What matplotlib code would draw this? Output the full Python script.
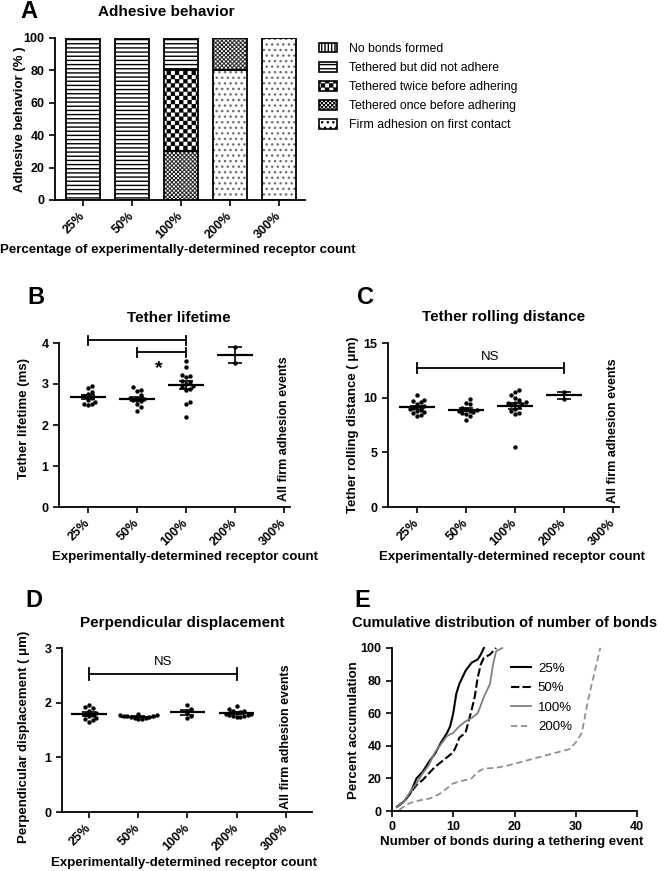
import numpy as np
import matplotlib
matplotlib.use('Agg')
import matplotlib.pyplot as plt
import matplotlib.hatch as mhatch
from matplotlib.path import Path
from matplotlib.patches import Patch
from matplotlib.lines import Line2D

plt.rcParams['font.family'] = ['Liberation Sans', 'DejaVu Sans']
plt.rcParams['hatch.linewidth'] = 1.0

# ---------------- custom checkerboard hatch (replaces 'O') ----------------
class CheckerHatch(mhatch.HatchPatternBase):
    def __init__(self, hatch, density):
        self.cells = 2 * hatch.count('O') * density
        self.num_vertices = (self.cells * self.cells // 2) * 5

    def set_vertices_and_codes(self, vertices, codes):
        c = self.cells
        s = 1.0 / c
        inset = 0.006
        k = 0
        for i in range(c):
            for j in range(c):
                if (i + j) % 2 == 0:
                    x0, y0 = i * s + inset, j * s + inset
                    x1, y1 = (i + 1) * s - inset, (j + 1) * s - inset
                    vertices[k:k + 5] = [(x0, y0), (x1, y0), (x1, y1), (x0, y1), (x0, y0)]
                    codes[k:k + 5] = [Path.MOVETO, Path.LINETO, Path.LINETO,
                                      Path.LINETO, Path.CLOSEPOLY]
                    k += 5

mhatch._hatch_types = [CheckerHatch if t is mhatch.LargeCircles else t
                       for t in mhatch._hatch_types]

# ---------------- data ----------------
groups = ['25%', '50%', '100%', '200%', '300%']

# Panel A: adhesive behavior (%)
categories_a = ['No bonds formed', 'Tethered but did not adhere',
                'Tethered twice before adhering', 'Tethered once before adhering',
                'Firm adhesion on first contact']
no_bonds = [0, 0, 0, 0, 0]
tethered_no_adhere = [100, 100, 20, 0, 0]
tethered_twice = [0, 0, 50, 0, 0]
tethered_once = [0, 0, 30, 20, 0]
firm_first = [0, 0, 0, 80, 100]

# Panel B: tether lifetime (ms)
lifetime_25 = [2.95, 2.9, 2.8, 2.75, 2.7, 2.66, 2.6, 2.55, 2.5, 2.48, 2.52]
lifetime_50 = [2.92, 2.85, 2.82, 2.72, 2.66, 2.64, 2.62, 2.6, 2.58, 2.5, 2.45, 2.35]
lifetime_100 = [3.55, 3.42, 3.22, 3.2, 3.18, 3.08, 3.05, 3.0, 2.95, 2.92, 2.88,
                2.85, 2.55, 2.52, 2.2]
lifetime_200 = [3.5, 3.9]

# Panel C: tether rolling distance (um)
rolling_25 = [10.2, 9.8, 9.7, 9.6, 9.4, 9.2, 9.1, 9.0, 8.9, 8.8, 8.7, 8.6, 8.4, 8.3]
rolling_50 = [9.9, 9.5, 9.4, 9.1, 9.0, 8.9, 8.8, 8.8, 8.7, 8.6, 8.5, 8.3, 8.0]
rolling_100 = [10.7, 10.5, 10.2, 10.0, 9.8, 9.6, 9.5, 9.5, 9.4, 9.3, 9.2, 9.0,
               8.8, 8.6, 8.5, 5.5]
rolling_200 = [10.5, 9.9]

# Panel D: perpendicular displacement (um)
perp_25 = [1.95, 1.92, 1.9, 1.85, 1.82, 1.8, 1.78, 1.75, 1.72, 1.7, 1.68, 1.65]
perp_50 = [1.8, 1.78, 1.77, 1.76, 1.75, 1.75, 1.74, 1.73, 1.72, 1.72, 1.7, 1.7]
perp_100 = [1.95, 1.88, 1.82, 1.75, 1.72]
perp_200 = [1.93, 1.88, 1.85, 1.85, 1.83, 1.82, 1.8, 1.8, 1.78, 1.77, 1.76,
            1.75, 1.74, 1.73]

# Panel E: cumulative distribution of number of bonds
e25_x = [0.8, 2, 3, 4, 5, 6, 7, 8, 9, 9.5, 10, 10.5, 11, 11.5, 12, 13, 14, 14.5, 15]
e25_y = [2.5, 6, 11, 20, 24, 30, 35, 42, 48, 52, 60, 72, 78, 82, 86, 91, 93, 96, 100]
e50_x = [0.8, 2, 3, 4, 5, 6, 7, 8, 9, 10, 10.5, 11, 12, 12.5, 13, 13.5, 14, 14.5,
         15, 16, 16.5, 17]
e50_y = [2.5, 6, 11, 16, 19, 23, 27, 30, 33, 36, 40, 45, 48, 55, 62, 70, 82, 90,
         94, 96, 98, 100]
e100_x = [0.8, 2, 3, 4, 5, 6, 7, 8, 9, 10, 11, 12, 13, 14, 15, 16, 16.5, 17, 18]
e100_y = [2.5, 6, 12, 17, 23, 28, 36, 41, 46, 48, 52, 55, 57, 60, 70, 78, 90, 98, 100]
e200_x = [1.2, 2, 3, 4, 5, 6, 7, 8, 9, 10, 11, 12, 13, 14, 15, 17, 19, 21, 23, 25,
          27, 29, 30, 31, 32, 33, 34]
e200_y = [0.5, 3, 5, 6, 7, 7.5, 9, 11, 14, 17, 18, 19, 20, 24, 26, 26.5, 28, 30,
          32, 34, 36, 38, 42, 48, 68, 84, 100]

# ---------------- layout helpers ----------------
W, H = 671, 871
fig = plt.figure(figsize=(W / 100, H / 100), dpi=100)

TICK_FS = 9
LAB_FS = 9.5
TITLE_FS = 11


def axes_px(l, t, r, b):
    return fig.add_axes([l / W, 1 - b / H, (r - l) / W, (b - t) / H])


def ftext(x, y, s, **kw):
    kw.setdefault('ha', 'center')
    kw.setdefault('va', 'center')
    fig.text(x / W, 1 - y / H, s, **kw)


def style(ax):
    for sp in ('top', 'right'):
        ax.spines[sp].set_visible(False)
    for sp in ('left', 'bottom'):
        ax.spines[sp].set_linewidth(1.3)
    ax.tick_params(direction='out', length=4, width=1.2, labelsize=TICK_FS)
    for lab in ax.get_xticklabels() + ax.get_yticklabels():
        lab.set_fontweight('bold')


def pct_xticks(ax):
    ax.set_xticks(range(len(groups)))
    ax.set_xticklabels(groups, rotation=45, ha='right', va='center',
                       rotation_mode='anchor', fontweight='bold', fontsize=TICK_FS)
    ax.tick_params(axis='x', pad=6)


def swarm(vals, center, dx, dy):
    vals = np.asarray(vals, dtype=float)
    order = np.argsort(vals)
    xs = np.zeros(len(vals))
    placed = []
    cands = [0] + [s * m for m in range(1, 30) for s in (1, -1)]
    for idx in order:
        v = vals[idx]
        for off in cands:
            if all(not (abs(v - pv) < dy and abs(off - po) < 1) for pv, po in placed):
                break
        placed.append((v, off))
        xs[idx] = center + off * dx
    return xs


def column_scatter(ax, datasets, dy):
    for i, d in enumerate(datasets):
        if d is None:
            continue
        xs = swarm(d, i, 0.075, dy)
        ax.scatter(xs, d, s=10, color='black', zorder=3, linewidths=0)
        m = np.mean(d)
        sem = np.std(d, ddof=1) / np.sqrt(len(d))
        ax.hlines(m, i - 0.36, i + 0.36, colors='black', lw=1.6, zorder=4)
        ax.errorbar(i, m, yerr=sem, fmt='none', ecolor='black', elinewidth=1.2,
                    capsize=5, capthick=1.2, zorder=4)


def bracket(ax, x1, x2, y, h):
    kw = dict(color='black', lw=1.3, clip_on=False)
    ax.plot([x1, x2], [y, y], **kw)
    ax.plot([x1, x1], [y - h, y + h], **kw)
    ax.plot([x2, x2], [y - h, y + h], **kw)


# ---------------- Panel A ----------------
axA = axes_px(55, 37.7, 305, 200)
hatches = {'No bonds formed': '|||||',
           'Tethered but did not adhere': '----',
           'Tethered twice before adhering': 'OO',
           'Tethered once before adhering': 'OOOO',
           'Firm adhesion on first contact': '...'}
hatch_colors = {'No bonds formed': 'black',
                'Tethered but did not adhere': 'black',
                'Tethered twice before adhering': 'black',
                'Tethered once before adhering': '#222222',
                'Firm adhesion on first contact': '#707070'}
stack = [('Firm adhesion on first contact', firm_first),
         ('Tethered once before adhering', tethered_once),
         ('Tethered twice before adhering', tethered_twice),
         ('Tethered but did not adhere', tethered_no_adhere),
         ('No bonds formed', no_bonds)]
bottom = np.zeros(len(groups))
xpos = np.arange(len(groups))
for name, vals in stack:
    vals = np.asarray(vals, dtype=float)
    mask = vals > 0
    if mask.any():
        # hatch layer (hatch colour follows edge colour)
        axA.bar(xpos[mask], vals[mask], bottom=bottom[mask], width=0.68,
                color='white', edgecolor=hatch_colors[name], linewidth=0,
                hatch=hatches[name], zorder=2)
        # outline
        axA.bar(xpos[mask], vals[mask], bottom=bottom[mask], width=0.68,
                fill=False, edgecolor='black', linewidth=1.3, zorder=3)
    bottom += vals
axA.set_xlim(-0.57, 4.53)
axA.set_ylim(0, 100)
axA.set_yticks([0, 20, 40, 60, 80, 100])
style(axA)
pct_xticks(axA)
handles = [Patch(facecolor='white', edgecolor='black', linewidth=1.2,
                 hatch=hatches[c]) for c in categories_a]
fig.legend(handles, categories_a, loc='upper left',
           bbox_to_anchor=(319 / W, 1 - 43 / H), frameon=False,
           prop={'size': 8.8, 'weight': 'normal'}, handlelength=1.5,
           handleheight=0.8, handletextpad=0.95, labelspacing=0.58,
           borderpad=0, borderaxespad=0)

# ---------------- Panel B ----------------
axB = axes_px(59, 343, 290, 507)
column_scatter(axB, [lifetime_25, lifetime_50, lifetime_100, lifetime_200, None], 0.12)
axB.set_xlim(-0.59, 4.12)
axB.set_ylim(0, 4)
axB.set_yticks([0, 1, 2, 3, 4])
style(axB)
pct_xticks(axB)
bracket(axB, 0, 2, 4.07, 0.11)
bracket(axB, 1, 2, 3.78, 0.11)
axB.text(1.45, 3.38, '*', ha='center', va='center', fontsize=14, fontweight='bold')
axB.text(4, 0.15, 'All firm adhesion events', rotation=90, ha='center',
         va='bottom', fontsize=9, fontweight='bold')

# ---------------- Panel C ----------------
axC = axes_px(388, 343, 619, 507)
column_scatter(axC, [rolling_25, rolling_50, rolling_100, rolling_200, None], 0.45)
axC.set_xlim(-0.59, 4.12)
axC.set_ylim(0, 15)
axC.set_yticks([0, 5, 10, 15])
style(axC)
pct_xticks(axC)
bracket(axC, 0, 3, 12.7, 0.45)
axC.text(1.5, 13.7, 'NS', ha='center', va='center', fontsize=9.5)
axC.text(4, 0.4, 'All firm adhesion events', rotation=90, ha='center',
         va='bottom', fontsize=9, fontweight='bold')

# ---------------- Panel D ----------------
axD = axes_px(62, 648, 312, 812)
column_scatter(axD, [perp_25, perp_50, perp_100, perp_200, None], 0.09)
axD.set_xlim(-0.55, 4.53)
axD.set_ylim(0, 3)
axD.set_yticks([0, 1, 2, 3])
style(axD)
pct_xticks(axD)
bracket(axD, 0, 3, 2.52, 0.11)
axD.text(1.5, 2.74, 'NS', ha='center', va='center', fontsize=9.5)
axD.text(4, 0.06, 'All firm adhesion events', rotation=90, ha='center',
         va='bottom', fontsize=9, fontweight='bold')

# ---------------- Panel E ----------------
axE = axes_px(392, 648, 637, 811)
axE.plot(e25_x, e25_y, color='black', lw=1.5, label='25%', clip_on=False)
axE.plot(e50_x, e50_y, color='black', lw=1.5, ls=(0, (4, 1.5)), label='50%', clip_on=False)
axE.plot(e100_x, e100_y, color='#808080', lw=1.3, label='100%', clip_on=False)
axE.plot(e200_x, e200_y, color='#909090', lw=1.3, ls=(0, (3.5, 2)), label='200%', clip_on=False)
axE.set_xlim(0, 40)
axE.set_ylim(0, 100)
axE.set_xticks([0, 10, 20, 30, 40])
axE.set_yticks([0, 20, 40, 60, 80, 100])
style(axE)
axE.legend(loc='upper left', bbox_to_anchor=(0.485, 0.91), frameon=False,
           prop={'size': 9.5, 'weight': 'normal'}, handlelength=1.5,
           handletextpad=0.55, labelspacing=0.55, borderpad=0, borderaxespad=0)

# ---------------- texts ----------------
bold = dict(fontweight='bold')
ftext(29, 12, 'A', fontsize=17, **bold)
ftext(36, 297, 'B', fontsize=17, **bold)
ftext(365, 297, 'C', fontsize=17, **bold)
ftext(34, 600, 'D', fontsize=17, **bold)
ftext(362, 600, 'E', fontsize=17, **bold)

ftext(166, 12, 'Adhesive behavior', fontsize=TITLE_FS, **bold)
ftext(179, 318, 'Tether lifetime', fontsize=TITLE_FS, **bold)
ftext(504, 317, 'Tether rolling distance', fontsize=TITLE_FS, **bold)
ftext(182, 623, 'Perpendicular displacement', fontsize=TITLE_FS, **bold)
ftext(505, 623, 'Cumulative distribution of number of bonds', fontsize=10.5, **bold)

ftext(178, 250, 'Percentage of experimentally-determined receptor count', fontsize=LAB_FS, **bold)
ftext(185, 557, 'Experimentally-determined receptor count', fontsize=LAB_FS, **bold)
ftext(512, 557, 'Experimentally-determined receptor count', fontsize=LAB_FS, **bold)
ftext(184, 863, 'Experimentally-determined receptor count', fontsize=LAB_FS, **bold)
ftext(512, 842, 'Number of bonds during a tethering event', fontsize=LAB_FS, **bold)

ftext(20, 119, 'Adhesive behavior (% )', rotation=90, fontsize=LAB_FS, **bold)
ftext(24, 418, 'Tether lifetime (ms)', rotation=90, fontsize=LAB_FS, **bold)
ftext(353, 425, 'Tether rolling distance ( \u03bcm)', rotation=90, fontsize=LAB_FS, **bold)
ftext(24, 737, 'Perpendicular displacement ( \u03bcm)', rotation=90, fontsize=LAB_FS, **bold)
ftext(354, 730, 'Percent accumulation', rotation=90, fontsize=LAB_FS, **bold)

fig.savefig('out.png', dpi=100)
